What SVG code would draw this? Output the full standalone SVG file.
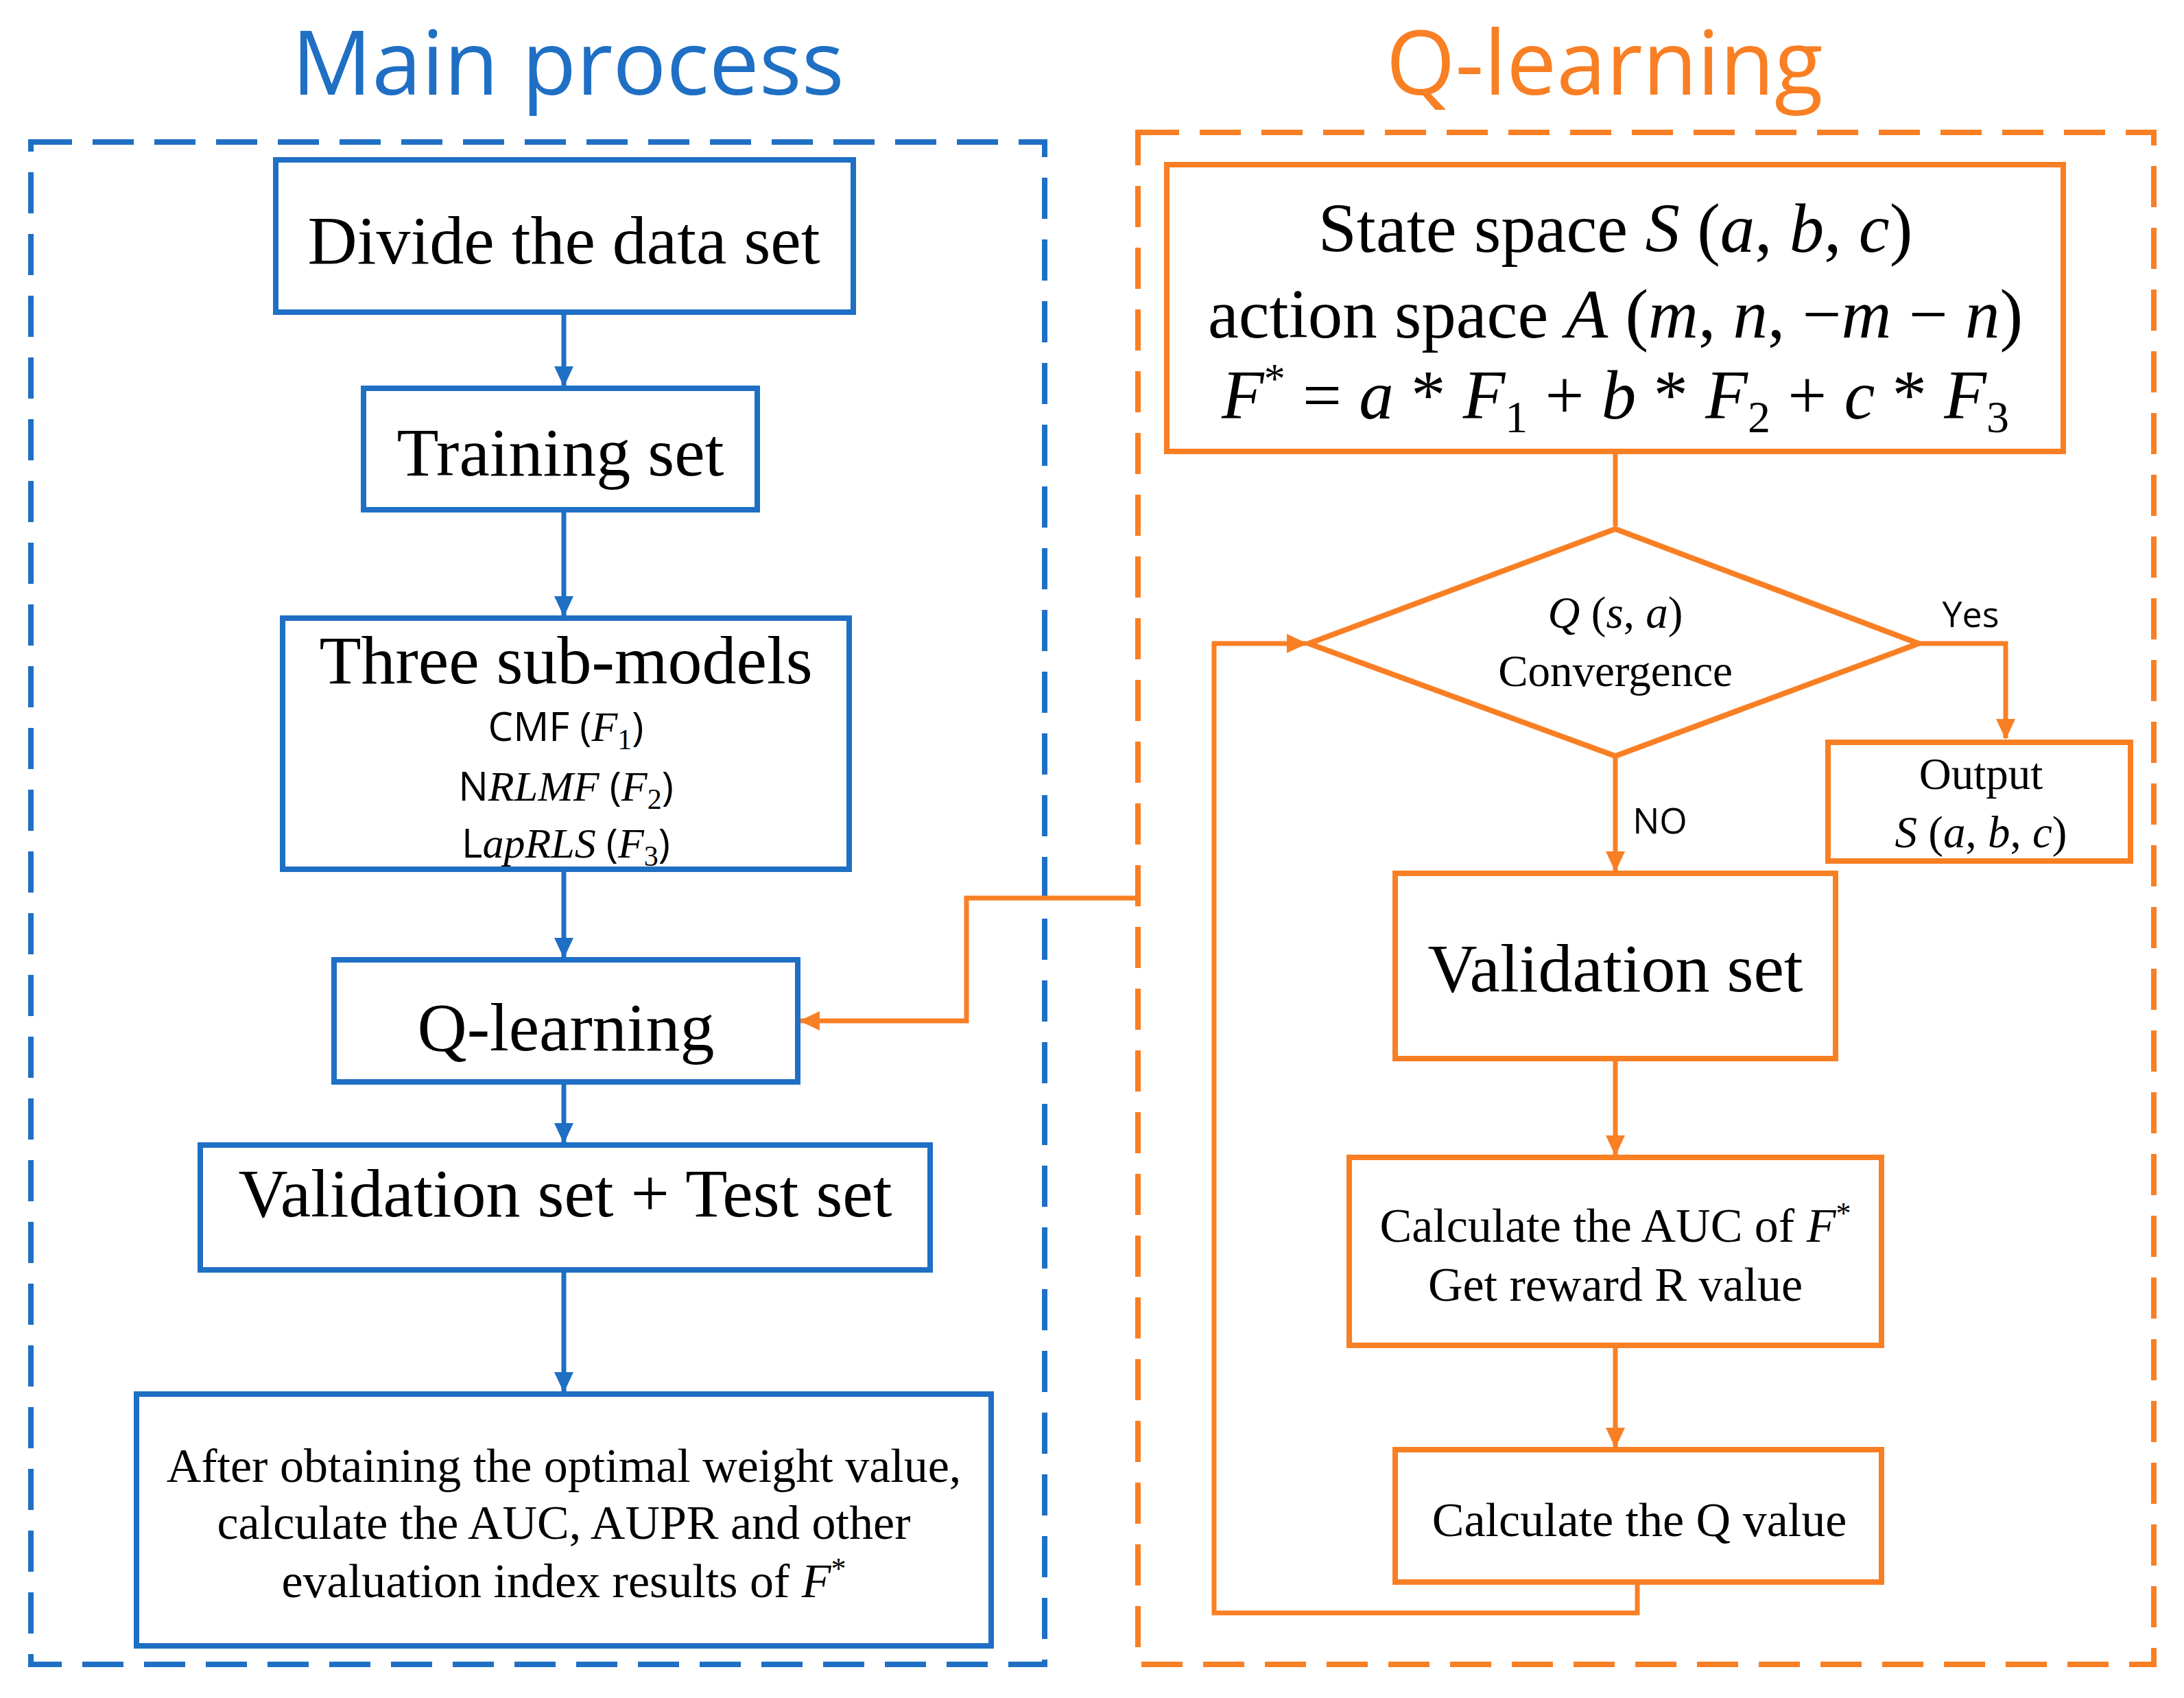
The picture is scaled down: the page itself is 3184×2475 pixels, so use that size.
<svg xmlns="http://www.w3.org/2000/svg" width="3184" height="2475" viewBox="0 0 3184 2475">
<style>
.t{font-family:"Liberation Serif",serif;fill:#000;text-anchor:middle}
.s{font-family:"Open Sans","Liberation Sans",sans-serif;fill:#000;text-anchor:middle}
.i{font-style:italic}
.b{fill:#fff;stroke:#1f6fc4;stroke-width:8}
.o{fill:#fff;stroke:#f97f24;stroke-width:8}
.bl{fill:none;stroke:#1f6fc4;stroke-width:7}
.ol{fill:none;stroke:#f97f24;stroke-width:7}
</style>
<defs>
<marker id="ab" markerUnits="userSpaceOnUse" markerWidth="32" markerHeight="32" refX="28" refY="14" orient="auto"><path d="M0,0 L30,14 L0,28 Z" fill="#1f6fc4"/></marker>
<marker id="ao" markerUnits="userSpaceOnUse" markerWidth="32" markerHeight="32" refX="28" refY="14" orient="auto"><path d="M0,0 L30,14 L0,28 Z" fill="#f97f24"/></marker>
</defs>
<rect width="3184" height="2475" fill="#fff"/>
<text x="828" y="138" font-family="Open Sans,Liberation Sans,sans-serif" font-size="130" fill="#1f6fc4" text-anchor="middle">Main process</text>
<text x="2339" y="138" font-family="Open Sans,Liberation Sans,sans-serif" font-size="130" fill="#f97f24" text-anchor="middle">Q-learning</text>
<rect x="45" y="207" width="1478" height="2219" fill="none" stroke="#1f6fc4" stroke-width="8" stroke-dasharray="60,30"/>
<rect x="1659" y="193" width="1481" height="2233" fill="none" stroke="#f97f24" stroke-width="8" stroke-dasharray="60,30"/>
<g id="connectors">
<path class="bl" d="M822,455 V562" marker-end="url(#ab)"/>
<path class="bl" d="M822,743 V897" marker-end="url(#ab)"/>
<path class="bl" d="M822,1267 V1395" marker-end="url(#ab)"/>
<path class="bl" d="M822,1577 V1665" marker-end="url(#ab)"/>
<path class="bl" d="M822,1851 V2028" marker-end="url(#ab)"/>
<path class="ol" d="M1659,1309 H1409 V1488 H1167" marker-end="url(#ao)"/>
<path class="ol" d="M2355,658 V767"/>
<path class="ol" d="M2797,938 H2924 V1076" marker-end="url(#ao)"/>
<path class="ol" d="M2355,1102 V1269" marker-end="url(#ao)"/>
<path class="ol" d="M2355,1543 V1683" marker-end="url(#ao)"/>
<path class="ol" d="M2355,1961 V2109" marker-end="url(#ao)"/>
<path class="ol" d="M2387,2306 V2351 H1770 V938 H1904" marker-end="url(#ao)"/>
<text class="s" x="2873" y="914" font-size="52">Yes</text>
<text class="s" x="2420" y="1215" font-size="52">NO</text>
</g>
<g id="n1"><rect class="b" x="402" y="233" width="842" height="222"/><text class="t" x="822" y="384" font-size="100">Divide the data set</text></g>
<g id="n2"><rect class="b" x="530" y="566" width="574" height="177"/><text class="t" x="817" y="693" font-size="100">Training set</text></g>
<g id="n3"><rect class="b" x="412" y="901" width="826" height="366"/>
<text class="t" x="825" y="996" font-size="100">Three sub-models</text>
<text class="s" x="825" y="1080" font-size="58">CMF (<tspan class="t i" font-size="62">F</tspan><tspan class="t" font-size="42" dy="12">1</tspan><tspan dy="-12">)</tspan></text>
<text class="s" x="825" y="1167" font-size="58">N<tspan class="t i" font-size="62">RLMF</tspan> (<tspan class="t i" font-size="62">F</tspan><tspan class="t" font-size="42" dy="12">2</tspan><tspan dy="-12">)</tspan></text>
<text class="s" x="825" y="1250" font-size="58">L<tspan class="t i" font-size="62">apRLS</tspan> (<tspan class="t i" font-size="62">F</tspan><tspan class="t" font-size="42" dy="12">3</tspan><tspan dy="-12">)</tspan></text></g>
<g id="n4"><rect class="b" x="487" y="1399" width="676" height="178"/><text class="t" x="825" y="1531" font-size="100">Q-learning</text></g>
<g id="n5"><rect class="b" x="292" y="1669" width="1064" height="182"/><text class="t" x="824" y="1773" font-size="100">Validation set + Test set</text></g>
<g id="n6"><rect class="b" x="199" y="2032" width="1246" height="367"/>
<text class="t" x="822" y="2160" font-size="70">After obtaining the optimal weight value,</text>
<text class="t" x="822" y="2243" font-size="70">calculate the AUC, AUPR and other</text>
<text class="t" x="822" y="2328" font-size="70">evaluation index results of <tspan class="i">F</tspan><tspan font-size="44" dy="-27">*</tspan></text></g>
<g id="q1"><rect class="o" x="1701" y="240" width="1307" height="418"/>
<text class="t" x="2355" y="367" font-size="101">State space <tspan class="i">S</tspan> (<tspan class="i">a</tspan>, <tspan class="i">b</tspan>, <tspan class="i">c</tspan>)</text>
<text class="t" x="2355" y="492" font-size="101">action space <tspan class="i">A</tspan> (<tspan class="i">m</tspan>, <tspan class="i">n</tspan>, −<tspan class="i">m</tspan> − <tspan class="i">n</tspan>)</text>
<text class="t" x="2355" y="610" font-size="101"><tspan class="i">F</tspan><tspan font-size="62" dy="-38">*</tspan><tspan dy="38"> = </tspan><tspan class="i">a</tspan> * <tspan class="i">F</tspan><tspan font-size="66" dy="20">1</tspan><tspan dy="-20"> + </tspan><tspan class="i">b</tspan> * <tspan class="i">F</tspan><tspan font-size="66" dy="20">2</tspan><tspan dy="-20"> + </tspan><tspan class="i">c</tspan> * <tspan class="i">F</tspan><tspan font-size="66" dy="20">3</tspan></text></g>
<g id="q2"><path class="o" d="M2355,771 L2797,938 L2355,1102 L1908,938 Z"/>
<text class="t" x="2355" y="915" font-size="65"><tspan class="i">Q</tspan> (<tspan class="i">s</tspan>, <tspan class="i">a</tspan>)</text>
<text class="t" x="2355" y="1000" font-size="65">Convergence</text></g>
<g id="q3"><rect class="o" x="2665" y="1082" width="441" height="173"/>
<text class="t" x="2888" y="1150" font-size="65">Output</text>
<text class="t" x="2888" y="1235" font-size="65"><tspan class="i">S</tspan> (<tspan class="i">a</tspan>, <tspan class="i">b</tspan>, <tspan class="i">c</tspan>)</text></g>
<g id="q4"><rect class="o" x="2034" y="1273" width="642" height="270"/><text class="t" x="2355" y="1445" font-size="100">Validation set</text></g>
<g id="q5"><rect class="o" x="1967" y="1687" width="776" height="274"/>
<text class="t" x="2355" y="1810" font-size="70">Calculate the AUC of <tspan class="i">F</tspan><tspan font-size="44" dy="-27">*</tspan></text>
<text class="t" x="2355" y="1896" font-size="70">Get reward R value</text></g>
<g id="q6"><rect class="o" x="2034" y="2113" width="709" height="193"/><text class="t" x="2390" y="2239" font-size="70">Calculate the Q value</text></g>
</svg>
